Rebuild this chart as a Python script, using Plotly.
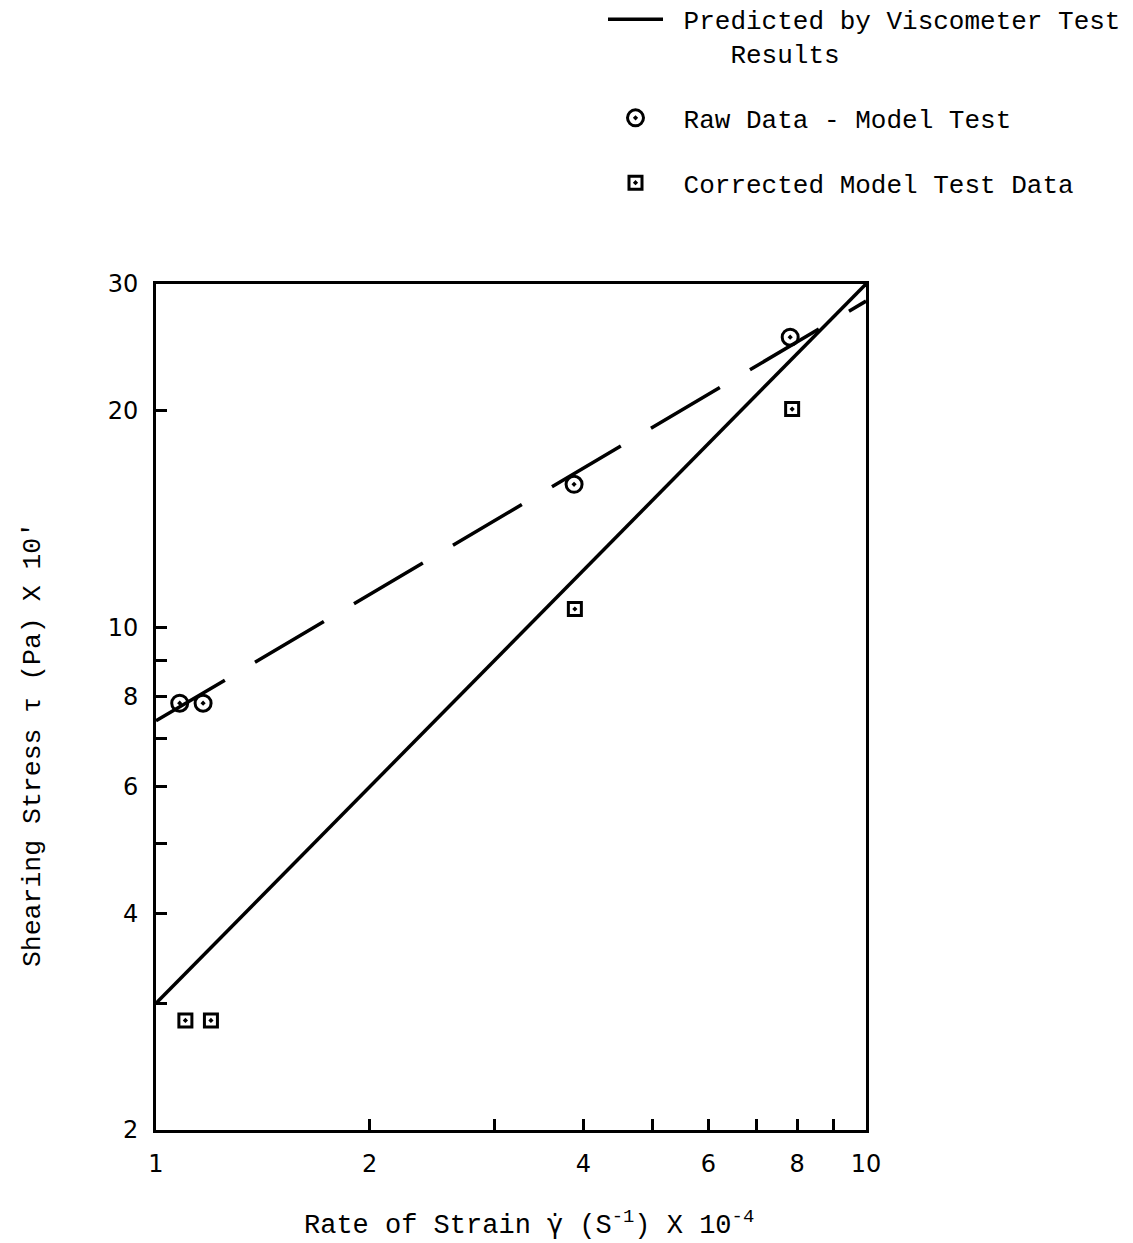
import plotly.graph_objects as go

# Rate of strain (x 10^-4 1/s) and shearing stress (x 10 Pa)
strain_raw = [1.08, 1.165, 3.88, 7.82]
stress_raw = [7.84, 7.84, 15.8, 25.3]

strain_corrected = [1.10, 1.195, 3.89, 7.87]
stress_corrected = [2.84, 2.84, 10.6, 20.1]

strain_predicted = [1.0, 10.0]
stress_predicted = [3.0, 30.0]

strain_fit = [1.0, 10.0]
stress_fit = [7.41, 28.4]

x_tickvals = [1, 2, 3, 4, 5, 6, 7, 8, 9, 10]
x_ticktext = ["1", "2", "", "4", "", "6", "", "8", "", "10"]
y_tickvals = [2, 3, 4, 5, 6, 7, 8, 9, 10, 20, 30]
y_ticktext = ["2", "", "4", "", "6", "", "8", "", "10", "20", "30"]

MONO = "Liberation Mono, Courier New, monospace"
NUM = "DejaVu Sans, Arial, sans-serif"
NB = "\u00a0"

fig = go.Figure()

fig.add_trace(go.Scatter(
    x=strain_predicted, y=stress_predicted, mode="lines",
    line=dict(color="black", width=3.5),
    name=NB + "Predicted by Viscometer Test<br>" + NB * 4 + "Results",
    legendgroup="a",
))

fig.add_trace(go.Scatter(
    x=strain_fit, y=stress_fit, mode="lines",
    line=dict(color="black", width=3.5, dash="80px,35px"),
    showlegend=False,
))

fig.add_trace(go.Scatter(
    x=strain_raw, y=stress_raw, mode="markers",
    marker=dict(symbol="circle-open-dot", size=16, color="black",
                line=dict(color="black", width=3)),
    name=NB + "Raw Data - Model Test",
    legendgroup="b",
))

fig.add_trace(go.Scatter(
    x=strain_corrected, y=stress_corrected, mode="markers",
    marker=dict(symbol="square-open-dot", size=13, color="black",
                line=dict(color="black", width=3)),
    name=NB + "Corrected Model Test Data",
    legendgroup="c",
))

axis_common = dict(
    type="log",
    showgrid=False,
    zeroline=False,
    showline=True,
    linecolor="black",
    linewidth=3,
    mirror=True,
    ticks="inside",
    ticklen=11,
    tickwidth=2.5,
    tickcolor="black",
    ticklabelstandoff=10,
    tickfont=dict(family=NUM, size=24, color="black"),
)

fig.update_xaxes(
    **axis_common,
    range=[0, 1],
    tickvals=x_tickvals,
    ticktext=x_ticktext,
)

fig.update_yaxes(
    **axis_common,
    range=[0.30103, 1.4771],
    tickvals=y_tickvals,
    ticktext=y_ticktext,
)

# Axis titles
fig.add_annotation(
    text="Shearing Stress \u03c4 (Pa) X 10'",
    xref="paper", yref="paper", x=-0.1732, y=0.455,
    xanchor="center", yanchor="middle", textangle=-90, showarrow=False,
    font=dict(family=MONO, size=26.5, color="black"),
)
fig.add_annotation(
    text=("Rate of Strain <span style='font-family:DejaVu Sans'>\u03b3\u0307</span>"
          " (S<sup>-1</sup>) X 10<sup>-4</sup>"),
    xref="paper", yref="paper", x=0.525, y=-0.110,
    xanchor="center", yanchor="middle", showarrow=False,
    font=dict(family=MONO, size=27, color="black"),
)

fig.update_layout(
    width=1133,
    height=1243,
    margin=dict(l=156, r=267, t=284, b=113, autoexpand=False),
    paper_bgcolor="white",
    plot_bgcolor="white",
    showlegend=True,
    legend=dict(
        x=(603 - 156) / 710, y=1.3406, xanchor="left", yanchor="top",
        font=dict(family=MONO, size=26, color="black"),
        valign="top",
        itemwidth=55,
        tracegroupgap=28,
        bgcolor="rgba(0,0,0,0)",
    ),
)

fig.write_html("out.html")
